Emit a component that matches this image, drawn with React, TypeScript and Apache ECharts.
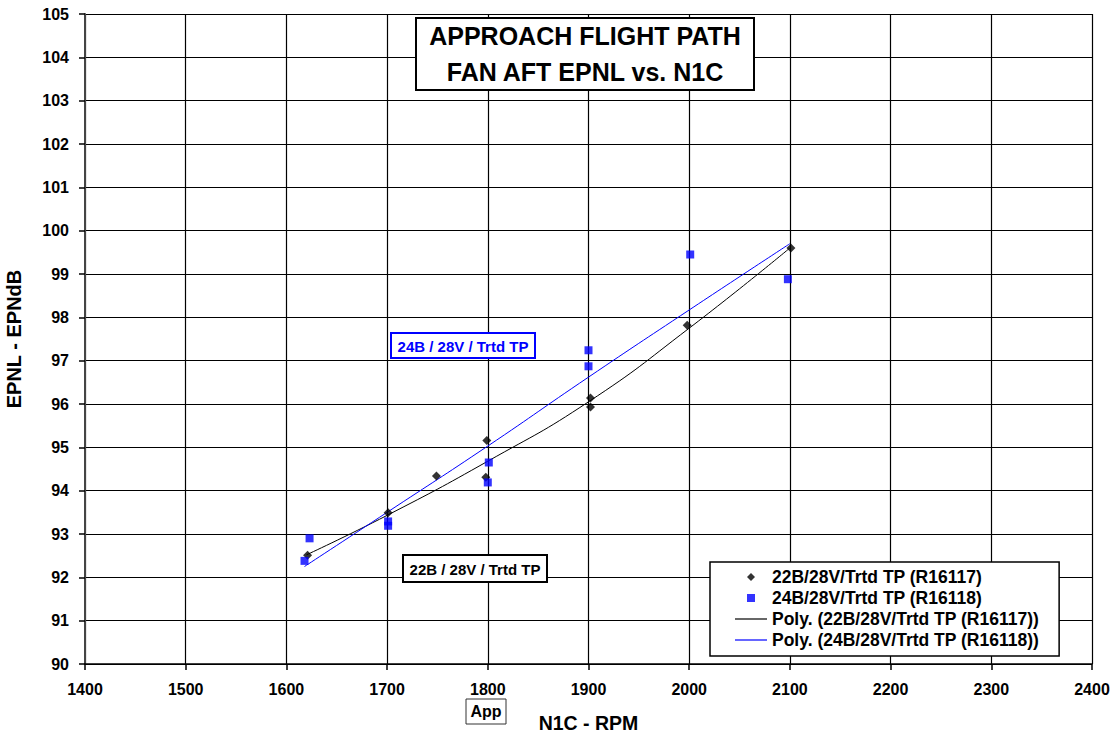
import React, { useEffect, useRef } from "react";
import * as echarts from "echarts";

const FONT = "'Liberation Sans', Arial, sans-serif";

const S1 = "22B/28V/Trtd TP (R16117)";
const S2 = "24B/28V/Trtd TP (R16118)";
const S3 = "Poly. (22B/28V/Trtd TP (R16117))";
const S4 = "Poly. (24B/28V/Trtd TP (R16118))";

const rpm22 = [1621, 1701, 1749, 1799, 1798, 1902, 1902, 1998, 2101];
const epnl22 = [92.51, 93.49, 94.34, 95.16, 94.31, 96.14, 95.93, 97.82, 99.6];

const rpm24 = [1623, 1618, 1701, 1701, 1801, 1800, 1900, 1900, 2001, 2098];
const epnl24 = [92.9, 92.38, 93.29, 93.19, 94.65, 94.19, 97.24, 96.87, 99.45, 98.88];

const trendRpm22 = [1620, 1700, 1800, 1900, 2000, 2100];
const trendEpnl22 = [92.52, 93.43, 94.68, 96.05, 97.75, 99.6];

const trendRpm24 = [1618, 1700, 1800, 1900, 2000, 2100];
const trendEpnl24 = [92.25, 93.5, 95.03, 96.62, 98.17, 99.7];

const xTicks = { min: 1400, max: 2400, interval: 100 };
const yTicks = { min: 90, max: 105, interval: 1 };

const zip = (a: number[], b: number[]) => a.map((v, i) => [v, b[i]]);

export default function App() {
  const ref = useRef<HTMLDivElement>(null);
  useEffect(() => {
    if (!ref.current) return;
    const chart = echarts.init(ref.current, null, { renderer: "svg" });
    const bold = { fontFamily: FONT, fontWeight: "bold" as const, color: "#000" };
    const lineIcon = "path://M0,0h32v1.2h-32z";
    chart.setOption({
      animation: false,
      backgroundColor: "#fff",
      grid: { left: 85, right: 25, top: 14, bottom: 70, containLabel: false, outerBoundsMode: "none" },
      xAxis: {
        type: "value",
        ...xTicks,
        name: "N1C - RPM",
        nameLocation: "middle",
        nameGap: 49,
        nameTextStyle: { ...bold, fontSize: 19.5 },
        axisLine: { show: true, lineStyle: { color: "#000", width: 1.5 } },
        axisTick: { show: true, length: 6, lineStyle: { color: "#000", width: 1.5 } },
        axisLabel: { ...bold, fontSize: 16, margin: 17, formatter: (v: number) => String(v) },
        splitLine: { show: true, lineStyle: { color: "#000", width: 1.2 } },
      },
      yAxis: {
        type: "value",
        ...yTicks,
        name: "EPNL - EPNdB",
        nameLocation: "middle",
        nameGap: 61,
        nameTextStyle: { ...bold, fontSize: 20 },
        axisLine: { show: true, lineStyle: { color: "#444", width: 2 } },
        axisTick: { show: true, length: 6, lineStyle: { color: "#000", width: 1.5 } },
        axisLabel: { ...bold, fontSize: 16, margin: 16, formatter: (v: number) => String(v) },
        splitLine: { show: true, lineStyle: { color: "#000", width: 1.2 } },
      },
      legend: {
        orient: "vertical",
        left: 710,
        top: 562,
        padding: [6, 20, 7, 25],
        itemGap: 3,
        itemWidth: 32,
        itemHeight: 8,
        symbolKeepAspect: true,
        borderColor: "#000",
        borderWidth: 1.5,
        backgroundColor: "#fff",
        textStyle: { ...bold, fontSize: 17.5 },
        data: [
          { name: S1, icon: "path://M4,0L8,4L4,8L0,4z", itemStyle: { color: "#000" } },
          { name: S2, icon: "path://M0,0h8v8h-8z", itemStyle: { color: "#0000ff" } },
          { name: S3, icon: lineIcon, itemStyle: { color: "#000" } },
          { name: S4, icon: lineIcon, itemStyle: { color: "#0000ff" } },
        ],
      },
      series: [
        {
          name: S3,
          type: "line",
          data: zip(trendRpm22, trendEpnl22),
          smooth: true,
          showSymbol: false,
          symbol: "none",
          itemStyle: { color: "#000" },
          lineStyle: { color: "#000", width: 1 },
          z: 3,
        },
        {
          name: S4,
          type: "line",
          data: zip(trendRpm24, trendEpnl24),
          smooth: true,
          showSymbol: false,
          symbol: "none",
          itemStyle: { color: "#0000ff" },
          lineStyle: { color: "#0000ff", width: 1 },
          z: 3,
        },
        {
          name: S1,
          type: "scatter",
          data: zip(rpm22, epnl22),
          symbol: "diamond",
          symbolSize: 9,
          itemStyle: { color: "#000" },
          z: 4,
        },
        {
          name: S2,
          type: "scatter",
          data: zip(rpm24, epnl24),
          symbol: "rect",
          symbolSize: 8,
          itemStyle: { color: "#0000ff" },
          z: 5,
        },
      ],
      graphic: [
        {
          type: "group",
          z: 100,
          children: [
            {
              type: "rect",
              z: 100,
              shape: { x: 416, y: 18, width: 338, height: 72 },
              style: { fill: "#fff", stroke: "#000", lineWidth: 2 },
            },
            {
              type: "text",
              z: 101,
              x: 585,
              y: 36,
              style: { text: "APPROACH FLIGHT PATH", font: `bold 25px ${FONT}`, fill: "#000", textAlign: "center", textVerticalAlign: "middle" },
            },
            {
              type: "text",
              z: 101,
              x: 585,
              y: 72,
              style: { text: "FAN AFT EPNL vs. N1C", font: `bold 25px ${FONT}`, fill: "#000", textAlign: "center", textVerticalAlign: "middle" },
            },
            {
              type: "rect",
              z: 100,
              shape: { x: 391, y: 333, width: 144, height: 25 },
              style: { fill: "#fff", stroke: "#0000ff", lineWidth: 2 },
            },
            {
              type: "text",
              z: 101,
              x: 463,
              y: 346,
              style: { text: "24B / 28V / Trtd TP", font: `bold 15px ${FONT}`, fill: "#0000ff", textAlign: "center", textVerticalAlign: "middle" },
            },
            {
              type: "rect",
              z: 100,
              shape: { x: 403, y: 555, width: 144, height: 27 },
              style: { fill: "#fff", stroke: "#000", lineWidth: 2 },
            },
            {
              type: "text",
              z: 101,
              x: 475,
              y: 569,
              style: { text: "22B / 28V / Trtd TP", font: `bold 15px ${FONT}`, fill: "#000", textAlign: "center", textVerticalAlign: "middle" },
            },
            {
              type: "rect",
              z: 100,
              shape: { x: 466, y: 699, width: 40, height: 25 },
              style: { fill: "#fff", stroke: "#333", lineWidth: 1 },
            },
            {
              type: "text",
              z: 101,
              x: 486,
              y: 711,
              style: { text: "App", font: `bold 16px ${FONT}`, fill: "#000", textAlign: "center", textVerticalAlign: "middle" },
            },
          ],
        },
      ],
    });
    return () => chart.dispose();
  }, []);
  return <div ref={ref} style={{ position: "fixed", left: 0, top: 0, width: 1117, height: 734 }} />;
}
